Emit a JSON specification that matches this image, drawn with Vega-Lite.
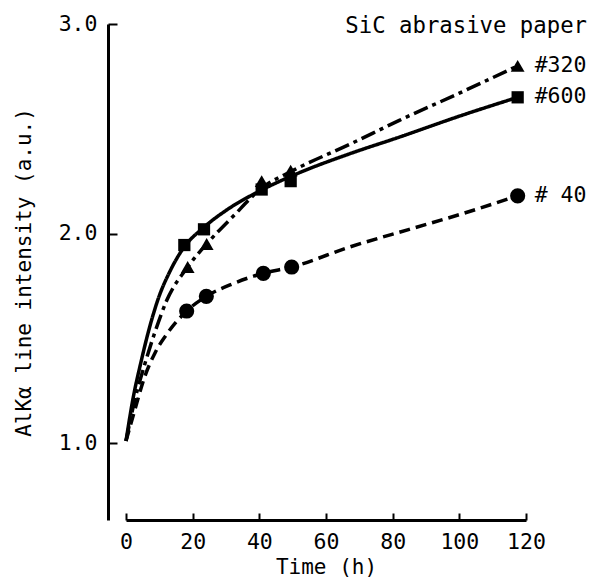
{
  "$schema": "https://vega.github.io/schema/vega-lite/v6.json",
  "width": 400,
  "height": 496,
  "autosize": {"type": "none"},
  "padding": {"left": 126, "top": 24, "right": 73, "bottom": 61},
  "background": "white",
  "config": {
    "view": {"stroke": null},
    "font": "DejaVu Sans Mono",
    "axis": {"grid": false, "domainColor": "black", "tickColor": "black", "labelColor": "black", "titleColor": "black", "labelFont": "DejaVu Sans Mono", "titleFont": "DejaVu Sans Mono", "labelFontSize": 21.5, "titleFontSize": 21, "titleFontWeight": "normal", "domainWidth": 3, "tickWidth": 2}
  },
  "datasets": {
    "curves": [
      {"s": "600", "t": 0, "v": 1.01}, {"s": "600", "t": 2.2, "v": 1.22}, {"s": "600", "t": 4.4, "v": 1.38}, {"s": "600", "t": 6.7, "v": 1.53}, {"s": "600", "t": 9.7, "v": 1.69}, {"s": "600", "t": 13.2, "v": 1.82}, {"s": "600", "t": 17.2, "v": 1.93}, {"s": "600", "t": 23.4, "v": 2.03}, {"s": "600", "t": 30, "v": 2.11}, {"s": "600", "t": 41, "v": 2.21}, {"s": "600", "t": 52, "v": 2.29}, {"s": "600", "t": 67, "v": 2.38}, {"s": "600", "t": 82, "v": 2.46}, {"s": "600", "t": 100, "v": 2.56}, {"s": "600", "t": 117.5, "v": 2.65},
      {"s": "320", "t": 0, "v": 1.01}, {"s": "320", "t": 2.7, "v": 1.21}, {"s": "320", "t": 5.7, "v": 1.38}, {"s": "320", "t": 8.7, "v": 1.53}, {"s": "320", "t": 12.2, "v": 1.68}, {"s": "320", "t": 18.5, "v": 1.84}, {"s": "320", "t": 24.2, "v": 1.95}, {"s": "320", "t": 32, "v": 2.08}, {"s": "320", "t": 41, "v": 2.22}, {"s": "320", "t": 50, "v": 2.30}, {"s": "320", "t": 67, "v": 2.425}, {"s": "320", "t": 82, "v": 2.54}, {"s": "320", "t": 100, "v": 2.67}, {"s": "320", "t": 117.5, "v": 2.80},
      {"s": "40", "t": 0, "v": 1.01}, {"s": "40", "t": 2.5, "v": 1.15}, {"s": "40", "t": 5.7, "v": 1.32}, {"s": "40", "t": 8.7, "v": 1.43}, {"s": "40", "t": 12.7, "v": 1.53}, {"s": "40", "t": 18.2, "v": 1.63}, {"s": "40", "t": 24.1, "v": 1.70}, {"s": "40", "t": 32, "v": 1.76}, {"s": "40", "t": 41.2, "v": 1.81}, {"s": "40", "t": 49.7, "v": 1.84}, {"s": "40", "t": 67, "v": 1.935}, {"s": "40", "t": 85, "v": 2.02}, {"s": "40", "t": 100, "v": 2.09}, {"s": "40", "t": 117.5, "v": 2.18}
    ],
    "points": [
      {"s": "600", "t": 17.5, "v": 1.945}, {"s": "600", "t": 23.4, "v": 2.02}, {"s": "600", "t": 40.7, "v": 2.21}, {"s": "600", "t": 49.4, "v": 2.25}, {"s": "600", "t": 117.5, "v": 2.65},
      {"s": "320", "t": 18.5, "v": 1.84}, {"s": "320", "t": 24.2, "v": 1.95}, {"s": "320", "t": 40.7, "v": 2.25}, {"s": "320", "t": 49.4, "v": 2.30}, {"s": "320", "t": 117.5, "v": 2.80},
      {"s": "40", "t": 18.2, "v": 1.63}, {"s": "40", "t": 24.1, "v": 1.70}, {"s": "40", "t": 41.2, "v": 1.81}, {"s": "40", "t": 49.7, "v": 1.84}, {"s": "40", "t": 117.5, "v": 2.18}
    ],
    "labels": [
      {"label": "#320", "t": 117.5, "v": 2.80},
      {"label": "#600", "t": 117.5, "v": 2.65},
      {"label": "# 40", "t": 117.5, "v": 2.18}
    ],
    "heading": [
      {"label": "SiC abrasive paper", "t": 120, "v": 3.0}
    ]
  },
  "encoding": {
    "x": {"field": "t", "type": "quantitative", "scale": {"domain": [0, 120], "nice": false, "zero": false},
      "axis": {"values": [0, 20, 40, 60, 80, 100, 120], "tickSize": -7, "labelPadding": 18, "labelFlush": false, "labelOverlap": false, "title": "Time (h)", "titlePadding": 4}},
    "y": {"field": "v", "type": "quantitative", "scale": {"domain": [0.6325, 3.0], "nice": false, "zero": false},
      "axis": {"values": [1, 2, 3], "format": ".1f", "offset": 18, "tickSize": -9, "labelPadding": 20, "labelFlush": false, "labelOverlap": false, "title": "AlKα line intensity (a.u.)", "titlePadding": 24}}
  },
  "layer": [
    {
      "data": {"name": "curves"},
      "mark": {"type": "line", "interpolate": "monotone", "color": "black", "strokeWidth": 3.5, "clip": false},
      "encoding": {
        "detail": {"field": "s"},
        "strokeDash": {"field": "s", "type": "nominal", "legend": null, "scale": {"domain": ["600", "320", "40"], "range": [[1, 0], [15, 5, 4, 5], [11, 6]]}}
      }
    },
    {
      "data": {"name": "points"},
      "mark": {"type": "point", "filled": true, "color": "black", "opacity": 1, "clip": false},
      "encoding": {
        "shape": {"field": "s", "type": "nominal", "legend": null, "scale": {"domain": ["600", "320", "40"], "range": ["square", "triangle-up", "circle"]}},
        "size": {"field": "s", "type": "nominal", "legend": null, "scale": {"domain": ["600", "320", "40"], "range": [150, 230, 160]}}
      }
    },
    {
      "data": {"name": "labels"},
      "mark": {"type": "text", "align": "left", "baseline": "middle", "dx": 17, "fontSize": 21.5, "font": "DejaVu Sans Mono", "color": "black"},
      "encoding": {"text": {"field": "label"}}
    },
    {
      "data": {"name": "heading"},
      "mark": {"type": "text", "align": "right", "baseline": "alphabetic", "dx": 61, "dy": 9, "fontSize": 22.3, "font": "DejaVu Sans Mono", "color": "black"},
      "encoding": {"text": {"field": "label"}}
    }
  ]
}
